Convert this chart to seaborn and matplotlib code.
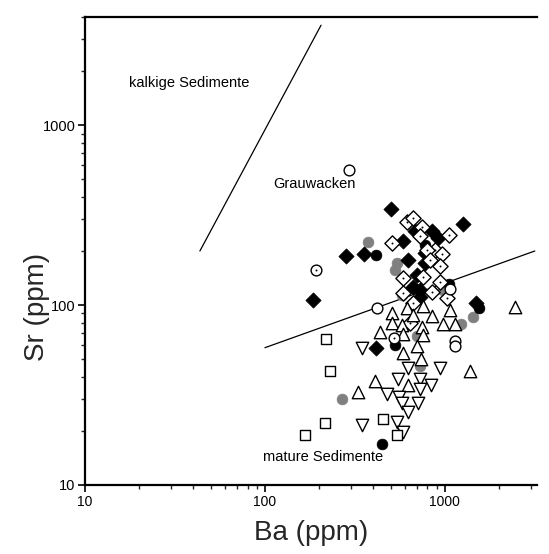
import matplotlib
matplotlib.use("Agg")
import matplotlib.pyplot as plt
import matplotlib.ticker as mticker
import seaborn as sns
import pandas as pd

# ---- data (Ba ppm, Sr ppm) ----
black_diamond_ba = [501, 1259, 282, 355, 185, 1486, 414, 681, 847, 914, 584, 774, 623, 774, 699, 664, 726, 726]
black_diamond_sr = [341, 282, 187, 192, 107, 103, 58, 258, 258, 236, 227, 194, 178, 171, 147, 126, 121, 111]

open_diamond_ba = [615, 664, 745, 1052, 508, 726, 880, 794, 962, 938, 825, 584, 755, 847, 1026, 938, 584, 664, 639]
open_diamond_sr = [289, 304, 271, 245, 221, 242, 202, 202, 192, 165, 178, 141, 143, 118, 109, 134, 117, 103, 80]

black_circle_ba = [414, 1052, 1545, 527, 447, 774]
black_circle_sr = [190, 131, 97, 60, 17, 216]

gray_circle_ba = [373, 541, 527, 577, 975, 1227, 1431, 726, 699, 268]
gray_circle_sr = [224, 171, 156, 114, 121, 79, 86, 46, 67, 30]

open_circle_ba = [293, 419, 1066, 1136, 1136]
open_circle_sr = [562, 97, 123, 63, 59]

dot_circle_ba = [192, 521]
dot_circle_sr = [156, 66]

tri_up_ba = [508, 615, 755, 847, 1066, 2449, 508, 577, 745, 975, 1136, 435, 584, 755, 699, 584, 736, 1377, 408, 623, 329, 664]
tri_up_sr = [91, 96, 99, 87, 94, 97.5, 80, 78, 76, 79, 79, 71, 69, 68, 59, 54, 50, 43, 38, 36, 33, 88]

tri_down_ba = [346, 623, 938, 548, 726, 836, 476, 555, 726, 708, 577, 623, 346, 541, 584]
tri_down_sr = [58, 45, 45, 39, 39, 36, 32, 31, 34, 28.5, 28.5, 25.5, 21.5, 22.4, 19.7]

square_ba = [218, 230, 215, 167, 453, 541]
square_sr = [65, 43, 22, 19, 23.3, 19]

# discrimination lines
kalk_line_ba = [43.5, 205]
kalk_line_sr = [200, 3600]
grau_line_ba = [100, 3160]
grau_line_sr = [58, 200]

labels = ["kalkige Sedimente", "Grauwacken", "mature Sedimente"]
label_ba = [17.6, 111, 97.5]
label_sr = [1711, 470, 14.3]

x_ticks = [10, 100, 1000]
y_ticks = [10, 100, 1000]

sns.set_style("ticks")
plt.rcParams['font.family'] = ['Liberation Sans', 'DejaVu Sans']

fig = plt.figure(figsize=(5.49, 5.54), dpi=100)
ax = fig.add_axes([85/549, 1 - 485/554, 452/549, 468/554])
ax.set_xscale("log")
ax.set_yscale("log")
ax.set_xlim(10, 3250)
ax.set_ylim(10, 4000)

def df(x, y):
    return pd.DataFrame({"Ba": x, "Sr": y})

lw = 1.0
sns.scatterplot(data=df(gray_circle_ba, gray_circle_sr), x="Ba", y="Sr", ax=ax,
                marker="o", s=60, color="#808080", edgecolor="#808080", linewidth=0.5, zorder=3)
sns.scatterplot(data=df(black_circle_ba, black_circle_sr), x="Ba", y="Sr", ax=ax,
                marker="o", s=60, color="black", edgecolor="black", linewidth=0.5, zorder=3)
sns.scatterplot(data=df(black_diamond_ba, black_diamond_sr), x="Ba", y="Sr", ax=ax,
                marker="D", s=60, color="black", edgecolor="black", linewidth=0.5, zorder=3)
sns.scatterplot(data=df(open_diamond_ba, open_diamond_sr), x="Ba", y="Sr", ax=ax,
                marker="D", s=60, color="white", edgecolor="black", linewidth=lw, zorder=4)
sns.scatterplot(data=df(open_diamond_ba, open_diamond_sr), x="Ba", y="Sr", ax=ax,
                marker="o", s=2, color="black", edgecolor="black", linewidth=0, zorder=4)
sns.scatterplot(data=df(tri_up_ba, tri_up_sr), x="Ba", y="Sr", ax=ax,
                marker="^", s=80, color="white", edgecolor="black", linewidth=lw, zorder=5)
sns.scatterplot(data=df(tri_down_ba, tri_down_sr), x="Ba", y="Sr", ax=ax,
                marker="v", s=80, color="white", edgecolor="black", linewidth=lw, zorder=5)
sns.scatterplot(data=df(open_circle_ba, open_circle_sr), x="Ba", y="Sr", ax=ax,
                marker="o", s=60, color="white", edgecolor="black", linewidth=lw, zorder=5)
sns.scatterplot(data=df(dot_circle_ba, dot_circle_sr), x="Ba", y="Sr", ax=ax,
                marker="o", s=60, color="white", edgecolor="black", linewidth=lw, zorder=5)
sns.scatterplot(data=df(dot_circle_ba, dot_circle_sr), x="Ba", y="Sr", ax=ax,
                marker="o", s=2, color="black", edgecolor="black", linewidth=0, zorder=5)
sns.scatterplot(data=df(square_ba, square_sr), x="Ba", y="Sr", ax=ax,
                marker="s", s=55, color="white", edgecolor="black", linewidth=lw, zorder=5)

ax.plot(kalk_line_ba, kalk_line_sr, color="black", lw=0.9, zorder=2)
ax.plot(grau_line_ba, grau_line_sr, color="black", lw=0.9, zorder=2)

for t, xx, yy in zip(labels, label_ba, label_sr):
    ax.text(xx, yy, t, fontsize=10.5, ha="left", va="center", color="black")

ax.xaxis.set_major_locator(mticker.FixedLocator(x_ticks))
ax.yaxis.set_major_locator(mticker.FixedLocator(y_ticks))
ax.xaxis.set_major_formatter(mticker.FuncFormatter(lambda v, p: f"{v:g}"))
ax.yaxis.set_major_formatter(mticker.FuncFormatter(lambda v, p: f"{v:g}"))
ax.xaxis.set_minor_locator(mticker.LogLocator(base=10, subs=range(2, 10)))
ax.yaxis.set_minor_locator(mticker.LogLocator(base=10, subs=range(2, 10)))
ax.xaxis.set_minor_formatter(mticker.NullFormatter())
ax.yaxis.set_minor_formatter(mticker.NullFormatter())

ax.tick_params(which="major", direction="out", length=5, width=1.2, labelsize=10.5, pad=2,
               top=False, right=False, colors="black")
ax.tick_params(which="minor", direction="out", length=3, width=1.0, top=False, right=False)
ax.tick_params(axis="x", which="major", labelsize=10)

for side in ["left", "bottom", "top"]:
    ax.spines[side].set_linewidth(1.6)
    ax.spines[side].set_color("black")
ax.spines["right"].set_visible(False)

ax.set_xlabel("Ba (ppm)", fontsize=20, labelpad=8)
ax.set_ylabel("Sr (ppm)", fontsize=20, labelpad=1)
ax.yaxis.set_label_coords(-0.077, (485 - 307) / 468)
ax.grid(False)

fig.savefig("out.png", dpi=100)
